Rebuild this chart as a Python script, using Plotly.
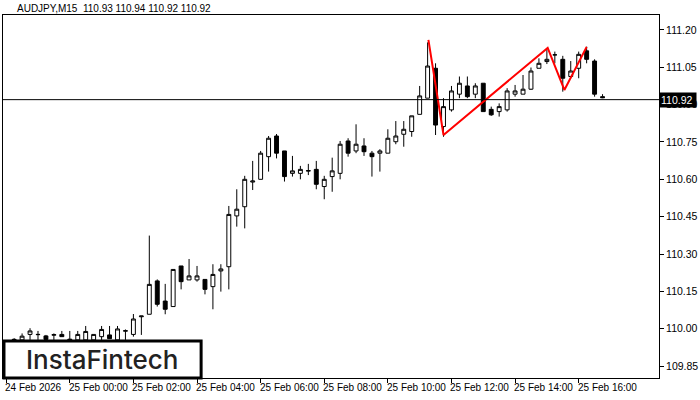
import plotly.graph_objects as go

idx = list(range(75))
opens = [109.955,109.955,109.977,109.976,109.971,109.974,109.977,109.958,109.955,109.955,109.955,109.968,109.975,109.955,109.990,109.977,110.048,110.058,110.192,110.111,110.089,110.252,110.196,110.196,110.198,110.169,110.232,110.249,110.453,110.490,110.589,110.600,110.691,110.774,110.714,110.624,110.624,110.633,110.640,110.571,110.611,110.624,110.754,110.714,110.734,110.705,110.705,110.705,110.751,110.781,110.792,110.861,110.926,111.046,110.812,110.879,110.942,110.975,110.942,110.986,110.881,110.872,110.879,110.942,110.942,110.962,111.046,111.073,111.100,111.082,111.013,111.046,111.116,111.075,110.932]
highs = [109.962,109.981,110.002,109.991,109.975,109.981,109.991,109.991,109.991,110.011,109.977,110.011,110.011,110.011,109.997,110.059,110.051,110.374,110.198,110.180,110.238,110.252,110.280,110.252,110.198,110.259,110.259,110.493,110.560,110.614,110.674,110.714,110.774,110.782,110.714,110.694,110.654,110.662,110.674,110.614,110.687,110.754,110.765,110.821,110.765,110.714,110.721,110.801,110.834,110.834,110.855,110.975,111.150,111.066,110.926,110.975,111.013,111.013,110.986,110.986,110.892,110.905,110.966,110.979,111.019,111.049,111.086,111.120,111.113,111.096,111.075,111.113,111.133,111.082,110.942]
lows = [109.950,109.955,109.955,109.955,109.955,109.955,109.968,109.955,109.955,109.955,109.955,109.955,109.961,109.955,109.955,109.968,109.975,110.058,110.089,110.058,110.089,110.158,110.196,110.189,110.138,110.078,110.149,110.158,110.410,110.403,110.557,110.600,110.631,110.684,110.591,110.611,110.600,110.617,110.560,110.520,110.550,110.600,110.691,110.705,110.694,110.611,110.631,110.705,110.741,110.731,110.771,110.861,110.926,110.778,110.771,110.872,110.926,110.926,110.926,110.872,110.855,110.852,110.872,110.932,110.942,110.959,111.046,111.063,111.066,110.952,111.006,111.006,111.066,110.932,110.926]
closes = [109.957,109.970,109.991,109.977,109.957,109.976,109.968,109.955,109.977,109.989,109.977,109.997,109.960,109.999,109.992,110.039,110.051,110.178,110.098,110.078,110.238,110.189,110.212,110.212,110.158,110.218,110.240,110.459,110.480,110.600,110.593,110.705,110.765,110.705,110.611,110.634,110.640,110.635,110.580,110.600,110.634,110.741,110.705,110.741,110.711,110.691,110.714,110.765,110.774,110.801,110.855,110.935,111.055,110.818,110.892,110.955,110.986,110.932,110.975,110.872,110.859,110.892,110.955,110.955,110.962,111.035,111.066,111.082,111.100,111.006,111.035,111.102,111.082,110.942,110.928]

pattern_x = [52.1, 54, 67.1, 69.2, 72]
pattern_y = [111.16, 110.778, 111.128, 110.959, 111.132]

current_price = 110.92
y_ticks = [111.20,111.05,110.90,110.75,110.60,110.45,110.30,110.15,110.00,109.85]
x_tick_pos = [-1,7,15,23,31,39,47,55,63,71]
x_tick_labels = ["24 Feb 2026","25 Feb 00:00","25 Feb 02:00","25 Feb 04:00","25 Feb 06:00",
                 "25 Feb 08:00","25 Feb 10:00","25 Feb 12:00","25 Feb 14:00","25 Feb 16:00"]

F = "Liberation Sans"
fig = go.Figure()
fig.add_trace(go.Candlestick(
    x=idx, open=opens, high=highs, low=lows, close=closes,
    increasing=dict(line=dict(color="black", width=1), fillcolor="white"),
    decreasing=dict(line=dict(color="black", width=1), fillcolor="black"),
    whiskerwidth=0, showlegend=False, hoverinfo="skip"))
fig.add_trace(go.Scatter(x=pattern_x, y=pattern_y, mode="lines",
                         line=dict(color="#ff0000", width=2), showlegend=False))
fig.add_hline(y=current_price, line=dict(color="black", width=1))

for xp, lab in zip(x_tick_pos, x_tick_labels):
    fig.add_annotation(x=xp, y=0, xref="x", yref="paper", yanchor="top", xanchor="left",
                       text=lab, showarrow=False, xshift=-3, yshift=-2,
                       font=dict(family=F, size=10, color="black"))

fig.add_annotation(x=1, y=current_price, xref="paper", yref="y", xanchor="left",
                   text="110.92 ", showarrow=False, bgcolor="black", xshift=0,
                   font=dict(family=F, size=10.5, color="white"), borderpad=1)

fig.add_annotation(x=0, y=1, xref="paper", yref="paper", xanchor="left", yanchor="bottom",
                   text="AUDJPY,M15  110.93 110.94 110.92 110.92", showarrow=False, xshift=12,
                   yshift=-1, font=dict(family=F, size=10, color="black"))

fig.add_shape(type="rect", xref="paper", yref="paper", x0=0.0015, x1=0.302, y0=0.0, y1=0.102,
              fillcolor="white", line=dict(color="black", width=3), layer="above")
fig.add_annotation(x=0.152, y=0.051, xref="paper", yref="paper", xanchor="center",
                   yanchor="middle", text="InstaFintech", showarrow=False,
                   font=dict(family="Inter", size=26, color="#222222", weight=500))

fig.update_layout(
    width=700, height=400, margin=dict(l=2, r=40, t=15, b=22),
    paper_bgcolor="white", plot_bgcolor="white",
    xaxis=dict(range=[-1.4, 81.1], rangeslider=dict(visible=False), showgrid=False,
               tickvals=x_tick_pos, showticklabels=False, ticks="outside", ticklen=4,
               tickcolor="black", showline=True, linecolor="black", mirror=True, zeroline=False),
    yaxis=dict(range=[109.802, 111.26], side="right", tickvals=y_ticks,
               ticktext=[f"{v:.2f}" for v in y_ticks], showgrid=False, ticks="outside",
               ticklen=4, tickcolor="black", showline=True, linecolor="black", mirror=True,
               tickfont=dict(family=F, size=10.5, color="black"), zeroline=False),
)
fig.write_html("out.html", config={"displayModeBar": False},
               post_script="document.body.style.margin='0';")
